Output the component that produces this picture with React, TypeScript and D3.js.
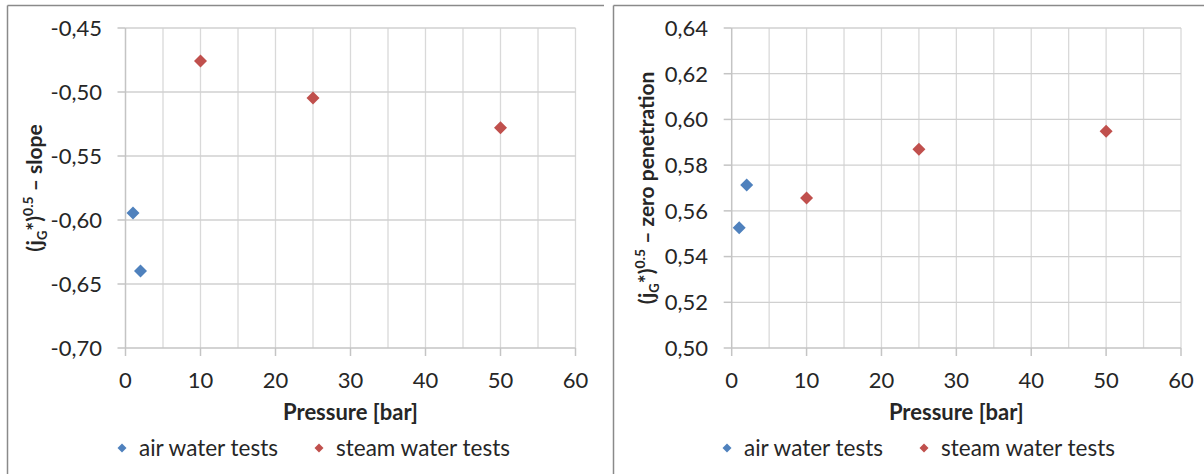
import React from 'react';
import * as d3 from 'd3';

// x axis
const pressureTicks = [0, 10, 20, 30, 40, 50, 60];
const pressureGrid = [5, 10, 15, 20, 25, 30, 35, 40, 45, 50, 55, 60];

// left chart: slope
const slopeTicks = [-0.7, -0.65, -0.6, -0.55, -0.5, -0.45];
const airPressure = [1, 2];
const airSlope = [-0.5945, -0.6398];
const steamPressure = [10, 25, 50];
const steamSlope = [-0.4758, -0.5047, -0.528];

// right chart: zero penetration
const zeroTicks = [0.5, 0.52, 0.54, 0.56, 0.58, 0.6, 0.62, 0.64];
const airZero = [0.5526, 0.5713];
const steamZero = [0.5656, 0.587, 0.5948];

const seriesNames = ['air water tests', 'steam water tests'];
const colors = ['#4f81bd', '#c0504d'];

const FONT = 'Lato, "Open Sans", sans-serif';
// excel style: comma decimal, plain hyphen for minus
const fmt = (v: number) => d3.format('.2f')(v).replace('.', ',').replace('\u2212', '-');

const diamond = (cx: number, cy: number, r: number) =>
  `M${cx},${cy - r}L${cx + r},${cy}L${cx},${cy + r}L${cx - r},${cy}Z`;

type PanelProps = {
  left: number;
  right: number;
  yTicks: number[];
  air: number[];
  steam: number[];
  titleX: number;
  titleTail: string;
  labelEnd: number;
  legendX: [number, number];
};

const Panel = ({ left, right, yTicks, air, steam, titleX, titleTail, labelEnd, legendX }: PanelProps) => {
  const top = 28;
  const bottom = 348;
  const x = d3.scaleLinear().domain([0, 60]).range([left, right]);
  const y = d3.scaleLinear().domain([yTicks[0], yTicks[yTicks.length - 1]]).range([bottom, top]);
  const midY = (top + bottom) / 2;
  const midX = (left + right) / 2;

  return (
    <g fontFamily={FONT}>
      {/* grid */}
      {pressureGrid.map(t => (
        <line key={'vg' + t} x1={x(t)} x2={x(t)} y1={top} y2={bottom} stroke="#d9d9d9" strokeWidth={1.3} />
      ))}
      {yTicks.slice(1).map(t => (
        <line key={'hg' + t} x1={left} x2={right} y1={y(t)} y2={y(t)} stroke="#d0d0d0" strokeWidth={1.3} />
      ))}
      {/* axes */}
      <line x1={left} x2={left} y1={top} y2={bottom} stroke="#c4c4c4" strokeWidth={1.5} />
      <line x1={left} x2={right} y1={bottom} y2={bottom} stroke="#c4c4c4" strokeWidth={1.5} />
      {pressureTicks.map(t => (
        <line key={'xt' + t} x1={x(t)} x2={x(t)} y1={bottom} y2={bottom + 8} stroke="#c4c4c4" strokeWidth={1.5} />
      ))}
      {yTicks.map(t => (
        <line key={'yt' + t} x1={left - 8} x2={left} y1={y(t)} y2={y(t)} stroke="#c4c4c4" strokeWidth={1.5} />
      ))}
      {/* tick labels */}
      {pressureTicks.map(t => (
        <text key={'xl' + t} x={x(t)} y={388} textAnchor="middle" fontSize={22} fill="#262626">
          {t}
        </text>
      ))}
      {yTicks.map(t => (
        <text key={'yl' + t} x={labelEnd} y={y(t)} dy="0.36em" textAnchor="end" fontSize={22} fill="#262626">
          {fmt(t)}
        </text>
      ))}
      {/* axis titles */}
      <text x={midX} y={420} textAnchor="middle" fontSize={22} fontWeight="bold" fill="#262626">
        Pressure [bar]
      </text>
      <text
        transform={`translate(${titleX},${midY}) rotate(-90)`}
        textAnchor="middle"
        fontSize={21}
        fontWeight="bold"
        fill="#262626"
      >
        (j<tspan fontSize={13} dy={5}>G</tspan>
        <tspan dy={-5}>*)</tspan>
        <tspan fontSize={14} dy={-9}>0.5</tspan>
        <tspan dy={9}>{' – ' + titleTail}</tspan>
      </text>
      {/* points */}
      {airPressure.map((p, i) => (
        <path key={'a' + i} d={diamond(x(p), y(air[i]), 6.5)} fill={colors[0]} />
      ))}
      {steamPressure.map((p, i) => (
        <path key={'s' + i} d={diamond(x(p), y(steam[i]), 6.5)} fill={colors[1]} />
      ))}
      {/* legend */}
      {seriesNames.map((name, i) => (
        <g key={name}>
          <path d={diamond(legendX[i], 448, 4.5)} fill={colors[i]} />
          <text x={legendX[i] + 17} y={448} dy="0.36em" fontSize={22.5} fill="#262626">
            {name}
          </text>
        </g>
      ))}
    </g>
  );
};

export default function App() {
  return (
    <svg
      width={1204}
      height={474}
      style={{ position: 'absolute', left: 0, top: 0, background: '#fff' }}
    >
      <rect x={0} y={0} width={1204} height={474} fill="#fff" />
      {/* panel frames */}
      <line x1={7.5} x2={604} y1={5.5} y2={5.5} stroke="#8a8a8a" strokeWidth={1.5} />
      <line x1={7.5} x2={7.5} y1={5.5} y2={474} stroke="#8a8a8a" strokeWidth={1.5} />
      <line x1={613.5} x2={1204} y1={5.5} y2={5.5} stroke="#8a8a8a" strokeWidth={1.5} />
      <line x1={613.5} x2={613.5} y1={5.5} y2={474} stroke="#8a8a8a" strokeWidth={1.5} />
      <Panel
        left={125.5}
        right={575.5}
        yTicks={slopeTicks}
        air={airSlope}
        steam={steamSlope}
        titleX={42}
        titleTail="slope"
        labelEnd={102}
        legendX={[122, 319]}
      />
      <Panel
        left={731.7}
        right={1181}
        yTicks={zeroTicks}
        air={airZero}
        steam={steamZero}
        titleX={654}
        titleTail="zero penetration"
        labelEnd={708}
        legendX={[727, 924]}
      />
    </svg>
  );
}
